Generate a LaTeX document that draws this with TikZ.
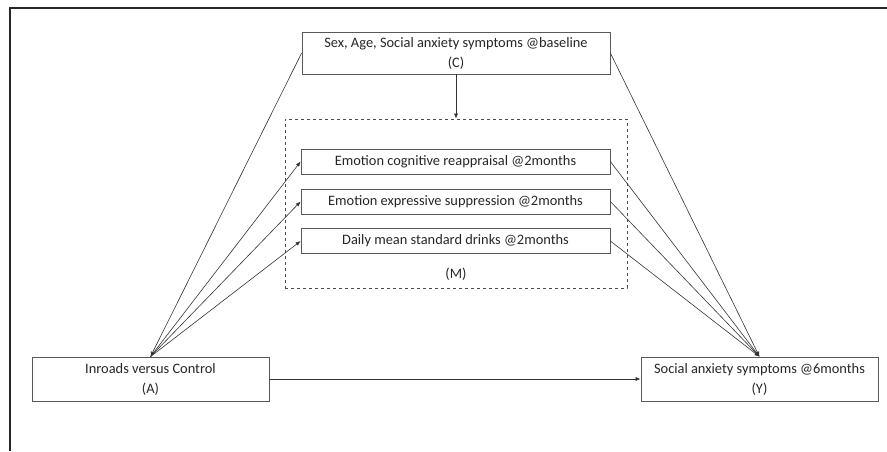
\documentclass[tikz,border=0pt]{standalone}
\usepackage{fontspec}
\setmainfont{Carlito}
\usepackage{xcolor}
\usepackage{tikz}
\usetikzlibrary{arrows.meta}

\begin{document}
\begin{tikzpicture}[x=1pt, y=-1pt,
		box/.style={draw=black!65, line width=0.7pt, text=black!85, inner sep=0pt, align=center, font=\fontsize{14.4}{20}\selectfont},
		medbox/.style={box, minimum width=309pt, minimum height=25pt},
		link/.style={draw=black!80, line width=0.6pt, -{Latex[length=5pt, width=4pt]}}]
			\useasboundingbox (0,0) rectangle (887,451);
			\draw [black!85, line width=2pt] (10,451) -- (10,8) -- (887,8);
			\node[box, minimum width=308pt, minimum height=42pt](cov) at (456,53)
			{Sex, Age, Social anxiety symptoms @baseline\\(C)};
			\node[draw=black!70, dashed, line width=0.7pt, minimum width=342pt, minimum height=169pt](mbox) at (456,203.5) {};
			\node[medbox](med1) at (455.5,161.5) {Emotion cognitive reappraisal @2months};
			\node[medbox](med2) at (455.5,201.5) {Emotion expressive suppression @2months};
			\node[medbox](med3) at (455.5,241) {Daily mean standard drinks @2months};
			\node[text=black!85, font=\fontsize{14.4}{17}\selectfont](mlab) at (456,274) {(M)};
			\node[box, minimum width=237pt, minimum height=44pt](treat) at (150.5,379)
			{Inroads versus Control\\(A)};
			\node[box, minimum width=237pt, minimum height=44pt](outc) at (759.5,379)
			{Social anxiety symptoms @6months\\(Y)};
			\draw [link] (cov.south) -- (mbox.north);
			\draw [link] (cov.west) -- (treat.north);
			\draw [link] (cov.east) -- (outc.north);
			\draw [link] (treat.north) -- (med1.west);
			\draw [link] (treat.north) -- (med2.west);
			\draw [link] (treat.north) -- (med3.west);
			\draw [link] (med1.east) -- (outc.north);
			\draw [link] (med2.east) -- (outc.north);
			\draw [link] (med3.east) -- (outc.north);
			\draw [link] (treat.east) -- (outc.west);
		\end{tikzpicture}
\end{document}
